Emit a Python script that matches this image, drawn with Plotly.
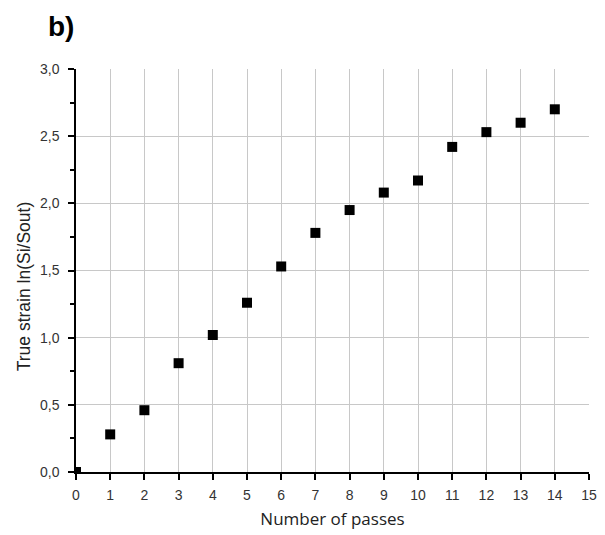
import plotly.graph_objects as go

passes = [0, 1, 2, 3, 4, 5, 6, 7, 8, 9, 10, 11, 12, 13, 14]
true_strain = [0.0, 0.28, 0.46, 0.81, 1.02, 1.26, 1.53, 1.78, 1.95, 2.08, 2.17, 2.42, 2.53, 2.60, 2.70]
x_ticks = list(range(0, 16))
y_ticks = [0.0, 0.5, 1.0, 1.5, 2.0, 2.5, 3.0]

fig = go.Figure()
fig.add_trace(go.Scatter(
    x=passes, y=true_strain, mode="markers",
    marker=dict(symbol="square", size=10, color="black"),
    cliponaxis=True, showlegend=False,
))

fig.update_layout(
    width=597, height=527,
    margin=dict(l=68, r=16, t=61, b=63),
    plot_bgcolor="white", paper_bgcolor="white",
    separators=",.",
    title=dict(text="<b>b)</b>", xref="container", yref="container",
               x=0.067, y=0.966, xanchor="left", yanchor="middle",
               font=dict(family="Liberation Sans", size=28, color="black")),
)
fig.add_annotation(text="True strain ln(Si/Sout)", textangle=-90,
                   xref="paper", yref="paper", x=-0.102, y=0.46,
                   xanchor="center", yanchor="middle", showarrow=False,
                   font=dict(family="Liberation Sans", size=17.5, color="#222222"))

fig.update_xaxes(
    range=[0, 15], tickvals=x_ticks, ticks="outside", ticklen=6, tickwidth=1.5,
    tickcolor="black", showline=True, linecolor="black", linewidth=1.5,
    showgrid=True, gridcolor="#c8c8c8", gridwidth=1, zeroline=False,
    tickfont=dict(family="Liberation Sans", size=14, color="#333333"),
    ticklabelstandoff=3, automargin=False,
    title=dict(text="Number of passes", font=dict(family="Open Sans", size=17, color="#222222"), standoff=12),
)
fig.update_yaxes(
    range=[0, 3], tickvals=y_ticks, tickformat=".1f", ticks="outside", ticklen=6, tickwidth=1.5,
    tickcolor="black", showline=True, linecolor="black", linewidth=1.5,
    showgrid=True, gridcolor="#c8c8c8", gridwidth=1, zeroline=False,
    minor=dict(dtick=0.25, ticks="outside", ticklen=4, tickwidth=1.5, tickcolor="black", showgrid=False),
    tickfont=dict(family="Liberation Sans", size=14, color="#333333"),
    ticklabelstandoff=6, automargin=False,
)

fig.write_html("out.html")
